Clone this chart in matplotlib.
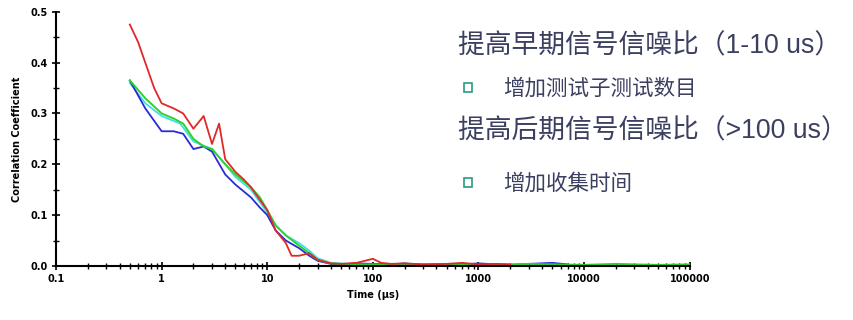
import matplotlib.pyplot as plt
from matplotlib.ticker import FixedLocator, NullFormatter, FormatStrFormatter
from matplotlib.patches import Rectangle

plt.rcParams['font.family'] = ['Noto Sans CJK SC', 'DejaVu Sans']

# czasy (us) i wspolczynniki korelacji
czas_red = [0.5, 0.6, 0.7, 0.85, 1.0, 1.3, 1.6, 2.0, 2.5, 3.0, 3.5, 4.0, 5.0, 6.0, 7.0, 8.5, 10, 12, 15, 17,
            20, 25, 30, 40, 50, 70, 100, 120, 150, 200, 300, 500, 700, 1000, 1500, 2000]
wsp_red = [0.475, 0.44, 0.40, 0.35, 0.32, 0.31, 0.30, 0.27, 0.295, 0.24, 0.28, 0.21, 0.185, 0.17, 0.155, 0.13,
           0.11, 0.07, 0.045, 0.02, 0.02, 0.025, 0.012, 0.005, 0.004, 0.006, 0.014, 0.006, 0.004, 0.005,
           0.003, 0.004, 0.006, 0.003, 0.004, 0.003]

czas_blue = [0.5, 0.7, 1.0, 1.3, 1.6, 2.0, 2.5, 3.0, 4.0, 5.0, 7.0, 8.5, 10, 12, 15, 20, 25, 30, 40, 50,
             70, 100, 150, 200, 300, 500, 700, 1000, 1500, 2000, 3000, 5000, 7000]
wsp_blue = [0.365, 0.31, 0.265, 0.265, 0.26, 0.23, 0.235, 0.225, 0.18, 0.16, 0.135, 0.115, 0.10, 0.07, 0.05,
            0.035, 0.02, 0.01, 0.004, 0.003, 0.005, 0.004, 0.003, 0.005, 0.002, 0.004, 0.003, 0.005, 0.003,
            0.002, 0.004, 0.006, 0.003]

czas_green = [0.5, 0.7, 1.0, 1.3, 1.6, 2.0, 2.5, 3.0, 4.0, 5.0, 7.0, 8.5, 10, 12, 15, 20, 25, 30, 40, 50,
              70, 100, 200, 500, 1000, 2000, 3000, 5000, 10000, 20000, 30000, 50000, 100000]
wsp_green = [0.365, 0.33, 0.30, 0.29, 0.28, 0.25, 0.235, 0.23, 0.20, 0.18, 0.155, 0.135, 0.11, 0.08, 0.06,
             0.04, 0.025, 0.012, 0.005, 0.004, 0.003, 0.003, 0.002, 0.003, 0.002, 0.003, 0.004, 0.003,
             0.002, 0.004, 0.003, 0.002, 0.003]

czas_cyan = [0.5, 0.7, 1.0, 1.5, 2.0, 3.0, 4.0, 5.0, 7.0, 10, 12, 15, 20, 25, 30, 40, 60, 100, 300, 1000]
wsp_cyan = [0.36, 0.32, 0.295, 0.28, 0.245, 0.23, 0.20, 0.175, 0.15, 0.105, 0.08, 0.06, 0.045, 0.03, 0.015,
            0.006, 0.004, 0.003, 0.004, 0.003]

x_ticki = [0.1, 1, 10, 100, 1000, 10000, 100000]
x_etykiety = ['0.1', '1', '10', '100', '1000', '10000', '100000']
y_ticki = [0.0, 0.1, 0.2, 0.3, 0.4, 0.5]
y_ticki_male = [0.05, 0.15, 0.25, 0.35, 0.45]

fig = plt.figure(figsize=(8.54, 3.2), dpi=100)
ax = fig.add_axes([0.0656, 0.169, 0.742, 0.794])

ax.plot(czas_cyan, wsp_cyan, color='#40e0e0', lw=1.3)
ax.plot(czas_blue, wsp_blue, color='#2a2ad8', lw=1.3)
ax.plot(czas_green, wsp_green, color='#30d030', lw=1.4)
ax.plot(czas_red, wsp_red, color='#e02828', lw=1.3)

ax.set_xscale('log')
ax.set_xlim(0.1, 100000)
ax.set_ylim(0, 0.5)
ax.xaxis.set_major_locator(FixedLocator(x_ticki))
ax.set_xticklabels(x_etykiety)
ax.xaxis.set_minor_formatter(NullFormatter())
ax.yaxis.set_major_locator(FixedLocator(y_ticki))
ax.yaxis.set_minor_locator(FixedLocator(y_ticki_male))
ax.yaxis.set_major_formatter(FormatStrFormatter('%.1f'))

for s in ['top', 'right']:
    ax.spines[s].set_visible(False)
for s in ['left', 'bottom']:
    ax.spines[s].set_linewidth(1.5)
ax.tick_params(which='major', direction='inout', length=6, width=1.2, labelsize=7, pad=3)
ax.tick_params(which='minor', direction='inout', length=4, width=1.0)
for lab in ax.get_xticklabels() + ax.get_yticklabels():
    lab.set_fontweight('bold')
    lab.set_family('DejaVu Sans')

ax.set_xlabel('Time (µs)', fontsize=7, fontweight='bold', family='DejaVu Sans', labelpad=4)
ax.set_ylabel('Correlation Coefficient', fontsize=7, fontweight='bold', family='DejaVu Sans', labelpad=6)

kolor_tekstu = '#3c4060'
rodzina_naglowka = ['Liberation Sans', 'Noto Sans CJK SC']
fig.text(0.536, 0.855, '提高早期信号信噪比（1-10 us）', fontsize=19.3, color=kolor_tekstu, va='center',
         family=rodzina_naglowka)
fig.text(0.589, 0.724, '增加测试子测试数目', fontsize=15.5, color=kolor_tekstu, va='center')
fig.text(0.536, 0.589, '提高后期信号信噪比（>100 us）', fontsize=19.3, color=kolor_tekstu, va='center',
         family=rodzina_naglowka)
fig.text(0.589, 0.427, '增加收集时间', fontsize=15.5, color=kolor_tekstu, va='center')

for yy in [0.728, 0.431]:
    fig.patches.append(Rectangle((0.543, yy - 0.014), 0.010, 0.026, transform=fig.transFigure,
                                 fill=False, edgecolor='#2a9a80', lw=1.2))

fig.savefig('out.png', dpi=100)
